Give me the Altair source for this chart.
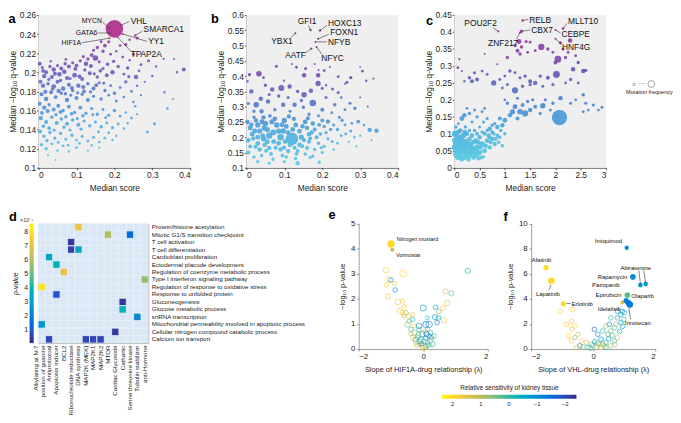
import altair as alt
import pandas as pd

W, H = 665, 415
FONT = "Liberation Sans"
TOP_Y = [157, 2]
EF_Y = [341, 213.5]

PARULA = ["#352a87", "#0f5cdd", "#1481d6", "#06a4ca", "#2eb7a4",
          "#87bf77", "#d1bb59", "#fec832", "#f9fb0e"]

# ---------------- Panel a : (median score, median -log10 q, mutation frequency) -------------
a_pts = [
    (0.200, 0.2455, 40),
    (0.187, 0.2460, 0.5), (0.191, 0.2412, 0.5), (0.187, 0.2357, 0.5), (0.2216, 0.2402, 0.5),
    (0.2545, 0.2385, 0.8), (0.2086, 0.2368, 0.5),
    (0.260, 0.236, 1.2), (0.240, 0.234, 0.8), (0.230, 0.229, 1.5), (0.215, 0.228, 1.0),
    (0.185, 0.232, 1.2), (0.175, 0.228, 1.8), (0.165, 0.232, 1.0), (0.155, 0.226, 1.5),
    (0.145, 0.223, 1.2), (0.170, 0.222, 1.5), (0.190, 0.219, 1.0), (0.205, 0.222, 0.8),
    (0.222, 0.216, 1.0), (0.250, 0.219, 1.2), (0.270, 0.220, 0.6), (0.240, 0.2125, 0.8),
    (0.150, 0.215, 4.0), (0.140, 0.218, 2.0), (0.130, 0.214, 1.5), (0.160, 0.211, 1.2),
    (0.125, 0.209, 2.5), (0.110, 0.212, 1.5), (0.100, 0.207, 2.0), (0.090, 0.210, 1.2),
    (0.080, 0.206, 2.0), (0.070, 0.209, 1.5), (0.060, 0.204, 2.0), (0.050, 0.207, 1.2),
    (0.040, 0.203, 2.5), (0.030, 0.206, 1.5), (0.020, 0.200, 2.0), (0.010, 0.205, 1.2),
    (0.003, 0.209, 2.0), (0.015, 0.196, 2.5), (0.035, 0.195, 2.0), (0.055, 0.198, 2.5),
    (0.075, 0.194, 2.0), (0.095, 0.197, 3.0), (0.115, 0.193, 2.0), (0.135, 0.199, 2.0),
    (0.155, 0.195, 1.5), (0.170, 0.204, 1.2), (0.180, 0.197, 2.0), (0.195, 0.200, 2.5),
    (0.210, 0.206, 1.5), (0.225, 0.198, 1.0), (0.235, 0.2045, 1.5), (0.257, 0.195, 2.5),
    (0.270, 0.208, 1.0), (0.290, 0.212, 1.2), (0.310, 0.206, 0.8), (0.330, 0.214, 0.6),
    (0.357, 0.214, 0.5), (0.365, 0.200, 0.8), (0.383, 0.203, 2.0), (0.300, 0.196, 0.8),
    (0.280, 0.190, 0.6),
    (0.005, 0.190, 2.0), (0.012, 0.186, 2.5), (0.025, 0.188, 1.5), (0.040, 0.185, 3.0),
    (0.050, 0.190, 2.0), (0.065, 0.183, 2.5), (0.080, 0.187, 2.0), (0.090, 0.181, 1.5),
    (0.105, 0.186, 2.5), (0.120, 0.180, 2.0), (0.130, 0.188, 1.5), (0.145, 0.183, 2.0),
    (0.160, 0.189, 1.2), (0.175, 0.181, 1.5), (0.190, 0.186, 1.0), (0.200, 0.178, 1.5),
    (0.215, 0.184, 1.0), (0.230, 0.190, 1.5), (0.245, 0.180, 1.0), (0.260, 0.186, 0.8),
    (0.270, 0.176, 0.6),
    (0.008, 0.177, 2.0), (0.020, 0.172, 2.5), (0.033, 0.179, 2.0), (0.045, 0.174, 2.0),
    (0.060, 0.178, 1.5), (0.075, 0.171, 2.5), (0.085, 0.176, 1.2), (0.100, 0.173, 2.0),
    (0.115, 0.177, 1.5), (0.130, 0.171, 2.0), (0.145, 0.175, 1.2), (0.165, 0.172, 1.5),
    (0.185, 0.176, 1.0), (0.205, 0.170, 1.2), (0.225, 0.174, 1.0), (0.250, 0.169, 0.8),
    (0.332, 0.179, 0.8), (0.355, 0.172, 0.5),
    (0.003, 0.167, 2.0), (0.015, 0.163, 2.5), (0.028, 0.166, 1.5), (0.040, 0.161, 2.0),
    (0.052, 0.165, 2.0), (0.065, 0.160, 1.5), (0.080, 0.164, 2.0), (0.095, 0.158, 1.5),
    (0.110, 0.163, 2.0), (0.125, 0.157, 1.5), (0.140, 0.162, 1.2), (0.155, 0.156, 1.5),
    (0.170, 0.161, 1.0), (0.185, 0.155, 1.2), (0.200, 0.160, 1.5), (0.215, 0.154, 1.0),
    (0.230, 0.158, 0.8), (0.245, 0.152, 1.0), (0.260, 0.156, 0.6),
    (0.006, 0.152, 2.5), (0.020, 0.148, 2.0), (0.035, 0.153, 1.5), (0.048, 0.147, 2.0),
    (0.060, 0.151, 1.5), (0.075, 0.146, 2.0), (0.090, 0.150, 1.5), (0.105, 0.145, 2.0),
    (0.120, 0.149, 1.2), (0.135, 0.144, 1.5), (0.150, 0.148, 1.2), (0.165, 0.143, 1.5),
    (0.180, 0.147, 1.0), (0.195, 0.142, 1.2), (0.210, 0.146, 1.0), (0.225, 0.141, 0.8),
    (0.340, 0.162, 0.8), (0.306, 0.146, 1.2), (0.287, 0.1375, 1.2),
    (0.004, 0.138, 2.0), (0.014, 0.133, 1.5), (0.030, 0.137, 1.5), (0.043, 0.131, 1.2),
    (0.058, 0.136, 1.5), (0.072, 0.130, 1.2), (0.088, 0.134, 1.5), (0.100, 0.129, 1.0),
    (0.115, 0.133, 1.2), (0.130, 0.128, 1.0), (0.145, 0.132, 1.2), (0.160, 0.127, 0.8),
    (0.175, 0.131, 1.0), (0.195, 0.129, 0.8),
    (0.008, 0.124, 1.5), (0.020, 0.120, 1.5), (0.035, 0.125, 1.0), (0.050, 0.118, 0.8),
    (0.065, 0.123, 1.0), (0.080, 0.117, 0.8), (0.100, 0.121, 1.0), (0.130, 0.118, 0.6),
    (0.160, 0.121, 0.6), (0.025, 0.113, 0.6), (0.045, 0.108, 0.5),
    (0.012, 0.2015, 1.8), (0.027, 0.1925, 1.4), (0.043, 0.1985, 2.2), (0.058, 0.1915, 1.6),
    (0.068, 0.2005, 2.6), (0.083, 0.1935, 1.3), (0.097, 0.2035, 1.9), (0.108, 0.1955, 2.3),
    (0.122, 0.2025, 1.5), (0.138, 0.2065, 2.1), (0.147, 0.1985, 1.2), (0.163, 0.2015, 1.7),
    (0.018, 0.1795, 2.1), (0.037, 0.1825, 1.5), (0.053, 0.1805, 2.4), (0.071, 0.1775, 1.6),
    (0.088, 0.1835, 1.9), (0.103, 0.1785, 1.3), (0.118, 0.1845, 2.2), (0.137, 0.1795, 1.4),
    (0.152, 0.1865, 1.8), (0.172, 0.1885, 1.1),
    (0.009, 0.1575, 1.8), (0.024, 0.1595, 2.2), (0.046, 0.1555, 1.4), (0.058, 0.1585, 2.0),
    (0.072, 0.1535, 1.5), (0.087, 0.1565, 1.7), (0.102, 0.1515, 1.3), (0.117, 0.1545, 1.6),
    (0.143, 0.1555, 1.1), (0.177, 0.1525, 1.0),
    (0.013, 0.1435, 1.6), (0.028, 0.1415, 1.9), (0.041, 0.1395, 1.3), (0.067, 0.1425, 1.5),
    (0.083, 0.1395, 1.2), (0.112, 0.1405, 1.4), (0.158, 0.1375, 1.0),
    (0.022, 0.1285, 1.4), (0.052, 0.1265, 1.1), (0.078, 0.1235, 1.0), (0.108, 0.1255, 0.9),
    (0.140, 0.1235, 0.8), (0.185, 0.1365, 0.9), (0.205, 0.1335, 0.7), (0.235, 0.1465, 0.8),
    (0.255, 0.1645, 0.7), (0.238, 0.1955, 1.3), (0.265, 0.2015, 0.9), (0.198, 0.2115, 1.4),
    (0.182, 0.2085, 1.6), (0.118, 0.2165, 1.3), (0.072, 0.2135, 0.9), (0.032, 0.2115, 0.8),
]
# gene, point x, point y, line-end x, line-end y, text x, text y
a_labels = [
    ("MYCN", 0.187, 0.2460, 0.1697, 0.2523, 0.167, 0.2535),
    ("GATA6", 0.191, 0.2412, 0.157, 0.2412, 0.155, 0.2412),
    ("HIF1A", 0.187, 0.2357, 0.1135, 0.2309, 0.112, 0.2309),
    ("VHL", 0.213, 0.2488, 0.239, 0.2530, 0.243, 0.2535),
    ("SMARCA1", 0.2545, 0.2385, 0.2735, 0.2430, 0.277, 0.2450),
    ("YY1", 0.2216, 0.2402, 0.2865, 0.2323, 0.289, 0.2325),
    ("TFAP2A", 0.2086, 0.2368, 0.2434, 0.2220, 0.243, 0.2190),
]
a_left = ["VHL", "SMARCA1", "YY1", "TFAP2A"]
a_right = ["MYCN", "GATA6", "HIF1A"]

# ---------------- Panel b ----------------
b_pts = [
    (0.169, 0.551, 0.8), (0.194, 0.549, 0.8), (0.189, 0.522, 0.6), (0.182, 0.512, 0.5),
    (0.129, 0.540, 0.5), (0.171, 0.490, 0.8), (0.185, 0.495, 0.6),
    (0.003, 0.383, 0.8), (0.008, 0.405, 1.5), (0.033, 0.408, 4.0), (0.045, 0.395, 1.0),
    (0.050, 0.370, 1.5), (0.079, 0.432, 1.2), (0.099, 0.385, 0.6), (0.132, 0.429, 1.0),
    (0.156, 0.425, 1.2), (0.152, 0.403, 2.5), (0.189, 0.403, 2.5), (0.205, 0.418, 1.0),
    (0.242, 0.398, 1.0), (0.265, 0.380, 1.2), (0.275, 0.395, 1.5), (0.306, 0.416, 1.0),
    (0.316, 0.385, 0.8), (0.335, 0.392, 0.6), (0.220, 0.430, 0.5), (0.180, 0.440, 0.5),
    (0.120, 0.440, 0.5), (0.300, 0.430, 0.4), (0.190, 0.420, 0.6),
    (0.092, 0.361, 4.5), (0.068, 0.356, 2.5), (0.114, 0.366, 2.5), (0.135, 0.350, 1.5),
    (0.152, 0.339, 4.0), (0.170, 0.352, 2.5), (0.189, 0.376, 3.5), (0.200, 0.360, 1.2),
    (0.175, 0.312, 5.5), (0.127, 0.306, 2.5), (0.150, 0.298, 1.5), (0.115, 0.285, 1.2),
    (0.013, 0.350, 2.5), (0.038, 0.326, 2.5), (0.026, 0.306, 4.0), (0.005, 0.310, 1.2),
    (0.057, 0.317, 2.5), (0.075, 0.290, 1.5), (0.097, 0.306, 2.5), (0.227, 0.358, 1.2),
    (0.242, 0.346, 1.2), (0.233, 0.306, 1.5), (0.273, 0.311, 1.2), (0.286, 0.295, 1.5),
    (0.210, 0.330, 1.2), (0.250, 0.330, 0.8), (0.300, 0.330, 0.6), (0.260, 0.290, 1.0),
    (0.200, 0.290, 2.0), (0.145, 0.320, 1.5), (0.060, 0.340, 1.2), (0.085, 0.335, 1.5),
    (0.110, 0.330, 1.2), (0.210, 0.370, 0.8), (0.260, 0.375, 0.6), (0.040, 0.285, 2.5),
    (0.020, 0.285, 1.5), (0.165, 0.275, 1.5), (0.190, 0.270, 1.2), (0.225, 0.280, 1.0),
    (0.320, 0.300, 0.6),
    (0.003, 0.250, 2.5), (0.010, 0.230, 3.0), (0.015, 0.210, 3.0), (0.005, 0.190, 2.5),
    (0.010, 0.170, 2.0), (0.005, 0.150, 2.0), (0.020, 0.135, 1.5), (0.025, 0.255, 2.5),
    (0.030, 0.240, 3.5), (0.035, 0.220, 3.5), (0.030, 0.200, 3.0), (0.030, 0.180, 3.0),
    (0.035, 0.160, 2.5), (0.040, 0.140, 1.5), (0.045, 0.265, 2.5), (0.050, 0.245, 4.0),
    (0.055, 0.225, 3.5), (0.060, 0.205, 5.0), (0.055, 0.185, 3.0), (0.060, 0.165, 2.5),
    (0.065, 0.145, 2.0), (0.070, 0.128, 1.5), (0.075, 0.260, 3.0), (0.080, 0.240, 4.0),
    (0.085, 0.220, 3.5), (0.090, 0.200, 5.5), (0.085, 0.180, 3.0), (0.090, 0.160, 2.5),
    (0.095, 0.140, 2.0), (0.100, 0.255, 3.5), (0.105, 0.235, 3.0), (0.110, 0.215, 3.0),
    (0.120, 0.195, 20.0), (0.115, 0.175, 3.0), (0.110, 0.155, 2.5), (0.105, 0.135, 1.5),
    (0.125, 0.260, 2.5), (0.130, 0.240, 3.0), (0.140, 0.220, 3.0), (0.145, 0.200, 3.5),
    (0.140, 0.175, 2.5), (0.135, 0.155, 2.0), (0.130, 0.130, 1.5), (0.155, 0.250, 3.0),
    (0.160, 0.230, 2.5), (0.165, 0.210, 2.5), (0.165, 0.185, 2.0), (0.160, 0.165, 2.0),
    (0.155, 0.145, 1.5), (0.175, 0.245, 2.5), (0.180, 0.225, 2.0), (0.185, 0.200, 2.0),
    (0.190, 0.180, 1.5), (0.180, 0.160, 1.5), (0.175, 0.138, 1.2), (0.200, 0.255, 2.0),
    (0.205, 0.235, 1.5), (0.210, 0.215, 1.5), (0.215, 0.195, 1.2), (0.205, 0.170, 1.2),
    (0.200, 0.150, 1.2), (0.215, 0.251, 2.5), (0.230, 0.240, 1.2), (0.240, 0.225, 1.5),
    (0.250, 0.205, 1.0), (0.240, 0.180, 1.0), (0.230, 0.160, 0.8), (0.260, 0.240, 1.0),
    (0.275, 0.220, 1.2), (0.295, 0.251, 2.0), (0.285, 0.200, 0.8), (0.270, 0.185, 0.6),
    (0.290, 0.170, 0.6), (0.325, 0.224, 2.5), (0.343, 0.221, 2.5), (0.310, 0.240, 0.8),
    (0.300, 0.205, 0.6), (0.330, 0.190, 0.5), (0.192, 0.118, 1.5), (0.168, 0.134, 1.5),
    (0.135, 0.115, 2.5), (0.100, 0.120, 1.2), (0.060, 0.115, 1.2), (0.030, 0.120, 1.5),
    (0.045, 0.195, 4.0),
    (0.013, 0.2405, 2.6), (0.022, 0.2205, 3.2), (0.018, 0.1955, 2.4), (0.024, 0.1685, 2.1),
    (0.041, 0.2505, 3.1), (0.047, 0.2305, 3.6), (0.043, 0.2055, 2.8), (0.048, 0.1755, 2.6),
    (0.052, 0.1555, 2.0), (0.067, 0.2505, 3.3), (0.071, 0.2155, 4.2), (0.072, 0.1855, 3.2),
    (0.077, 0.1655, 2.2), (0.094, 0.2405, 3.1), (0.097, 0.2205, 3.8), (0.102, 0.1855, 2.9),
    (0.099, 0.1655, 2.3), (0.122, 0.2255, 3.0), (0.127, 0.1655, 2.1), (0.132, 0.1455, 1.8),
    (0.148, 0.2355, 2.6), (0.152, 0.1905, 2.4), (0.147, 0.1705, 2.2), (0.172, 0.2155, 2.3),
    (0.168, 0.1955, 2.1), (0.192, 0.2405, 1.9), (0.195, 0.2105, 1.7), (0.197, 0.1655, 1.3),
    (0.222, 0.2255, 1.6), (0.226, 0.1855, 1.1), (0.262, 0.2105, 1.0), (0.252, 0.2555, 1.4),
    (0.278, 0.2455, 0.9), (0.245, 0.265, 1.2), (0.162, 0.262, 2.0), (0.112, 0.268, 2.2),
    (0.062, 0.270, 1.8), (0.020, 0.265, 1.6),
]
b_labels = [
    ("GFI1", 0.169, 0.551, 0.164, 0.566, 0.160, 0.581),
    ("HOXC13", 0.194, 0.549, 0.212, 0.566, 0.215, 0.575),
    ("FOXN1", 0.189, 0.522, 0.217, 0.537, 0.221, 0.543),
    ("NFYB", 0.182, 0.512, 0.212, 0.512, 0.215, 0.512),
    ("YBX1", 0.129, 0.540, 0.118, 0.527, 0.122, 0.516),
    ("AATF", 0.171, 0.490, 0.156, 0.476, 0.157, 0.468),
    ("NFYC", 0.185, 0.495, 0.199, 0.471, 0.197, 0.458),
]
b_left = ["HOXC13", "FOXN1", "NFYB", "NFYC"]
b_right = ["YBX1", "AATF"]
b_center = ["GFI1"]

# ---------------- Panel c ----------------
c_pts = [
    (1.35, 0.434, 0.8), (0.87, 0.402, 0.6), (1.33, 0.402, 1.5), (1.30, 0.398, 0.6),
    (2.15, 0.410, 1.0), (2.00, 0.406, 0.6), (2.00, 0.380, 0.6),
    (2.08, 0.148, 30.0),
    (1.28, 0.372, 3.0), (1.20, 0.360, 1.5), (1.33, 0.356, 1.5), (1.42, 0.372, 1.2),
    (1.50, 0.370, 1.0), (1.72, 0.356, 5.0), (1.25, 0.345, 2.0), (1.30, 0.335, 1.5),
    (1.45, 0.340, 1.0), (1.60, 0.345, 1.0), (1.85, 0.350, 1.5), (1.95, 0.340, 1.0),
    (2.10, 0.368, 1.5), (2.29, 0.375, 2.5), (2.15, 0.350, 1.2), (2.40, 0.330, 1.0),
    (2.25, 0.340, 1.0), (2.05, 0.320, 6.0), (2.00, 0.310, 2.0), (2.20, 0.325, 1.5),
    (2.45, 0.310, 1.5), (2.35, 0.290, 2.5), (2.55, 0.285, 2.5), (2.60, 0.287, 1.5),
    (1.05, 0.325, 1.5), (0.85, 0.305, 0.6), (0.10, 0.320, 0.6), (0.07, 0.295, 1.0),
    (0.60, 0.335, 0.5),
    (2.02, 0.275, 6.0), (1.85, 0.265, 2.0), (1.70, 0.270, 1.5), (1.60, 0.250, 2.5),
    (1.50, 0.255, 2.0), (1.40, 0.270, 1.5), (1.30, 0.265, 1.2), (1.20, 0.280, 1.0),
    (1.10, 0.285, 1.5), (1.00, 0.270, 1.0), (0.90, 0.260, 1.0), (0.78, 0.250, 3.5),
    (0.55, 0.285, 1.0), (0.45, 0.260, 2.0), (0.35, 0.255, 2.0), (0.30, 0.265, 1.5),
    (0.40, 0.280, 1.2), (0.65, 0.275, 1.0), (0.20, 0.255, 0.8), (0.15, 0.285, 0.6),
    (1.20, 0.228, 5.0), (1.35, 0.240, 1.5), (1.50, 0.245, 1.5), (1.75, 0.240, 1.2),
    (1.95, 0.245, 1.5), (2.20, 0.250, 1.0), (2.30, 0.260, 1.5), (2.45, 0.250, 1.0),
    (2.55, 0.215, 1.5), (1.05, 0.245, 1.2), (0.95, 0.235, 1.0),
    (2.10, 0.205, 2.5), (1.95, 0.190, 1.5), (1.80, 0.200, 1.2), (1.75, 0.183, 3.5),
    (1.60, 0.180, 2.0), (1.50, 0.170, 2.5), (1.40, 0.160, 5.0), (1.30, 0.165, 4.0),
    (1.20, 0.180, 3.0), (1.15, 0.165, 3.5), (1.10, 0.155, 2.5), (1.00, 0.140, 3.0),
    (0.95, 0.125, 2.5), (0.90, 0.145, 2.0), (0.85, 0.120, 2.5), (0.80, 0.130, 1.5),
    (0.75, 0.105, 2.0), (0.70, 0.115, 2.5), (1.25, 0.145, 2.0), (1.35, 0.185, 2.0),
    (1.45, 0.195, 1.5), (1.55, 0.200, 1.2), (1.70, 0.160, 1.5), (1.90, 0.170, 1.2),
    (2.30, 0.190, 1.2), (2.40, 0.200, 1.0), (2.60, 0.190, 1.2), (2.65, 0.170, 1.0),
    (2.75, 0.185, 1.2), (2.85, 0.170, 1.0), (2.92, 0.178, 1.2), (2.55, 0.165, 1.0),
    (0.20, 0.155, 2.5), (0.15, 0.145, 3.0), (0.30, 0.160, 1.5), (0.25, 0.175, 1.0),
    (0.40, 0.170, 1.2), (0.45, 0.150, 1.5), (0.55, 0.165, 1.0), (0.65, 0.145, 1.2),
    (0.60, 0.175, 1.0), (1.05, 0.190, 1.5), (1.00, 0.200, 1.0), (1.25, 0.205, 1.2),
    (0.02, 0.100, 6.0), (0.05, 0.070, 8.0), (0.08, 0.055, 8.0), (0.12, 0.045, 6.0),
    (0.15, 0.075, 6.0), (0.20, 0.050, 8.0), (0.25, 0.065, 6.0), (0.30, 0.040, 6.0),
    (0.35, 0.055, 6.0), (0.40, 0.035, 4.0), (0.45, 0.060, 4.0), (0.50, 0.045, 4.0),
    (0.55, 0.070, 4.0), (0.60, 0.050, 3.0), (0.65, 0.080, 3.0), (0.70, 0.060, 2.5),
    (0.75, 0.085, 2.5), (0.80, 0.070, 2.5), (0.90, 0.090, 1.5), (0.95, 0.065, 1.5),
    (1.00, 0.100, 1.5), (0.10, 0.030, 4.0), (0.18, 0.030, 4.0), (0.28, 0.025, 3.0),
    (0.38, 0.030, 2.5), (0.48, 0.028, 2.5), (0.58, 0.032, 1.5), (0.03, 0.040, 4.0),
    (0.06, 0.085, 4.0), (0.10, 0.090, 3.0), (0.18, 0.095, 4.0), (0.25, 0.100, 2.5),
    (0.30, 0.085, 3.0), (0.35, 0.095, 2.5), (0.42, 0.080, 3.0), (0.50, 0.090, 2.5),
    (0.55, 0.105, 1.5), (0.60, 0.100, 2.0), (0.12, 0.110, 2.5), (0.22, 0.120, 1.5),
    (0.03, 0.120, 1.5), (0.08, 0.130, 1.0), (0.40, 0.110, 1.5), (0.65, 0.110, 1.5),
    (0.22, 0.075, 6.0), (0.32, 0.070, 4.0), (0.42, 0.050, 4.0), (0.13, 0.065, 6.0),
    (0.05, 0.050, 6.0), (0.00, 0.060, 4.0), (0.01, 0.080, 4.0), (0.85, 0.095, 2.0),
    (0.88, 0.075, 1.5), (0.70, 0.090, 2.0), (0.78, 0.100, 1.5), (0.45, 0.100, 2.0),
    (0.27, 0.045, 4.0),
    (0.04, 0.060, 5.0), (0.09, 0.075, 5.0), (0.16, 0.055, 5.0), (0.24, 0.035, 4.0),
    (0.33, 0.060, 4.0), (0.38, 0.075, 3.0), (0.47, 0.075, 3.0), (0.52, 0.060, 3.0),
    (0.62, 0.065, 2.5), (0.68, 0.095, 2.5), (0.14, 0.090, 4.0), (0.21, 0.105, 3.0),
    (0.08, 0.105, 3.0), (0.36, 0.040, 3.0), (0.45, 0.040, 2.5), (0.53, 0.030, 2.0),
    (0.06, 0.030, 3.0), (0.15, 0.025, 3.0), (0.72, 0.075, 2.0), (0.82, 0.085, 2.0),
    (0.92, 0.110, 1.5), (0.50, 0.120, 1.2), (0.30, 0.110, 1.5), (0.58, 0.135, 1.2),
    (0.75, 0.125, 1.5), (0.35, 0.135, 1.2),
]
c_labels = [
    ("RELB", 1.35, 0.434, 1.46, 0.437, 1.48, 0.436),
    ("POU2F2", 0.87, 0.402, 0.77, 0.412, 0.52, 0.427),
    ("CBX7", 1.33, 0.402, 1.50, 0.406, 1.52, 0.407),
    ("ZNF217", 1.30, 0.398, 1.23, 0.380, 1.265, 0.368),
    ("MLLT10", 2.15, 0.410, 2.23, 0.425, 2.25, 0.432),
    ("CEBPE", 2.00, 0.406, 2.10, 0.397, 2.12, 0.393),
    ("HNF4G", 2.00, 0.380, 2.11, 0.366, 2.13, 0.356),
]
c_left = ["RELB", "CBX7", "MLLT10", "CEBPE", "HNF4G"]
c_right = ["ZNF217"]
c_center = ["POU2F2"]

# ---------------- Panel d : heatmap (p-value x 1e-5) ----------------
d_rows = ["Protein/histone acetylation", "Mitotic G1/S transition checkpoint",
          "T cell activation", "T cell differentiation", "Cardioblast proliferation",
          "Ectodermal placode development", "Regulation of coenzyme metabolic process",
          "Type I interferon signaling pathway", "Regulation of response to oxidative stress",
          "Response to unfolded protein", "Gluconeogenesis", "Glucose metabolic process",
          "snRNA transcription", "Mitochondrial permeability involved in apoptotic process",
          "Cellular nitrogen compound catabolic process", "Calcium ion transport"]
d_cols = ["Alkylating at N-7|position of guanine", "Antiprotozoal", "Apoptosis inducer", "BCL2",
          "Ribonucleotide reductase", "DNA synthesis", "MAP2K (MEK)", "MAP2K1", "MAP2K2",
          "MTOR", "Cardiac Glycoside", "Cathartic", "Serine threonine kinase",
          "Tubulin stabilizer", "anti-Hormone"]
d_cells = [
    ("Protein/histone acetylation", "DNA synthesis", 7.2),
    ("Mitotic G1/S transition checkpoint", "MTOR", 6.0),
    ("Mitotic G1/S transition checkpoint", "Serine threonine kinase", 1.5),
    ("T cell activation", "Ribonucleotide reductase", 0.3),
    ("T cell differentiation", "Ribonucleotide reductase", 0.5),
    ("T cell differentiation", "DNA synthesis", 3.4),
    ("Cardioblast proliferation", "Antiprotozoal", 3.3),
    ("Ectodermal placode development", "Apoptosis inducer", 3.9),
    ("Regulation of coenzyme metabolic process", "BCL2", 7.0),
    ("Type I interferon signaling pathway", "anti-Hormone", 5.6),
    ("Regulation of response to oxidative stress", "Alkylating at N-7|position of guanine", 8.1),
    ("Response to unfolded protein", "Apoptosis inducer", 0.9),
    ("Gluconeogenesis", "Cathartic", 0.25),
    ("Glucose metabolic process", "Cathartic", 3.7),
    ("snRNA transcription", "Tubulin stabilizer", 2.2),
    ("Mitochondrial permeability involved in apoptotic process", "Alkylating at N-7|position of guanine", 2.8),
    ("Cellular nitrogen compound catabolic process", "Cardiac Glycoside", 0.35),
    ("Calcium ion transport", "Antiprotozoal", 0.6),
    ("Calcium ion transport", "MAP2K (MEK)", 0.6),
    ("Calcium ion transport", "MAP2K1", 0.6),
    ("Calcium ion transport", "MAP2K2", 0.6),
]
d_pmax = 8.6
d_ticks = [1, 2, 3, 4, 5, 6, 7, 8]

# ---------------- Panels e / f : (slope, -log10 p, relative sensitivity, size) ----------
e_open = [
    (-1.15, 3.14, 1.9, 3), (-0.62, 3.00, 1.9, 4.5), (-1.06, 2.77, 1.8, 2.5), (-1.00, 2.74, -1.0, 2),
    (-1.15, 2.55, 1.9, 1.8), (-0.89, 2.61, 1.7, 1.8), (-0.87, 2.35, -0.9, 2), (-1.09, 2.09, 1.6, 2.5),
    (-0.79, 1.87, 1.8, 3), (-0.64, 1.92, 1.6, 1.5), (-0.59, 1.70, 1.7, 1.5), (-0.72, 1.50, 1.8, 3.5),
    (-0.53, 1.44, 0.6, 2), (-0.59, 1.31, 0.9, 1.5), (-0.33, 1.37, 1.3, 1.5), (-0.43, 1.11, 0.5, 2),
    (-0.48, 0.98, 0.7, 3), (-0.38, 0.78, 0.0, 2), (-0.28, 0.92, 1.5, 1.5), (-0.13, 0.92, -1.0, 3),
    (0.08, 0.98, -1.6, 3.5), (0.00, 1.63, -0.9, 3.5), (0.38, 1.66, -0.3, 2), (0.74, 1.83, 1.5, 3),
    (0.61, 1.63, 1.7, 2), (0.69, 2.29, 1.3, 2.5), (0.87, 2.22, 0.2, 2.5), (1.38, 3.11, -0.2, 2.5),
    (0.36, 1.27, -1.0, 2.5), (0.48, 1.24, -0.2, 2), (0.64, 1.14, 1.6, 2.5), (0.43, 1.05, -1.2, 2),
    (0.18, 0.98, -1.3, 4), (0.23, 0.65, 0.0, 2), (0.13, 0.78, 0.6, 2), (-0.03, 0.59, -1.0, 3),
    (-0.18, 0.46, 0.5, 2), (-0.08, 0.39, 0.0, 2), (0.08, 0.43, -1.0, 2), (-0.23, 0.26, 1.8, 2),
    (-0.13, 0.20, 0.6, 2), (0.03, 0.13, 1.2, 3.5), (0.13, 0.26, 0.0, 2), (0.23, 0.33, 0.6, 2),
    (0.30, 0.20, 0.0, 2), (-0.03, 0.07, 1.8, 2), (0.08, 0.09, 0.6, 2), (-0.33, 0.46, 1.7, 2),
    (-0.38, 0.61, 1.2, 2), (0.33, 0.52, 0.0, 2), (0.18, 0.52, -1.0, 2), (-0.28, 0.65, 0.6, 3),
    (-0.13, 0.78, 0.0, 2), (-0.47, 1.31, 1.8, 2), (-0.64, 1.46, 1.8, 2), (-0.33, 1.18, 0.0, 2),
    (0.13, 1.24, -0.3, 1.2), (0.48, 1.50, 0.5, 2), (-0.10, 0.30, -0.5, 2.5), (0.05, 0.30, 0.3, 2.5),
    (0.15, 0.15, -0.2, 2), (-0.20, 0.15, 1.0, 2), (0.20, 0.05, 0.8, 2), (-0.05, 0.20, -1.2, 2),
    (0.10, 0.60, -1.5, 2.5), (-0.15, 0.55, 0.2, 2.5), (0.25, 0.45, -0.6, 2), (0.00, 0.02, 1.5, 2.5),
    (0.05, 0.70, 0.9, 2), (-0.25, 0.38, 0.0, 2),
]
e_fill = [("Nitrogen mustard", -1.00, 4.18, 2.0, 5.0), ("Vorinostat", -0.96, 3.95, 1.2, 1.5)]
e_text = [("Nitrogen mustard", -0.82, 4.38, "left"), ("Vorinostat", -0.84, 3.75, "left")]

f_open = [
    (-1.07, 3.00, 1.9, 2), (-0.65, 3.13, 1.9, 2), (-0.70, 2.22, 1.8, 1.8), (-0.59, 1.83, 1.9, 2),
    (-0.70, 1.57, 1.8, 1.8), (-0.49, 1.17, 1.2, 1.8), (-0.59, 0.91, 0.6, 1.8), (-0.38, 0.65, 1.8, 1.8),
    (-0.22, 0.52, 1.2, 2), (-0.06, 0.39, 0.6, 2), (-0.01, 0.26, 0.0, 2), (0.10, 0.18, 0.6, 3),
    (0.20, 0.34, 1.2, 2), (0.31, 0.39, 0.6, 2), (0.41, 0.52, 0.0, 2), (0.25, 0.78, -1.0, 2),
    (0.15, 1.17, -1.0, 2), (0.04, 1.57, -1.9, 2), (0.47, 1.17, 0.0, 2), (0.57, 1.44, 0.6, 2),
    (0.68, 1.70, 0.0, 2), (0.52, 1.96, -1.0, 2), (0.78, 2.48, 0.0, 2), (0.89, 2.74, -0.3, 2),
    (0.78, 3.00, -1.0, 1.8), (0.94, 3.00, -0.5, 1.8), (0.57, 2.48, 0.0, 2), (0.41, 1.83, 0.6, 2),
    (0.31, 1.44, 0.0, 2), (0.73, 1.96, 1.2, 2), (0.89, 2.09, -1.0, 2), (0.99, 2.35, 0.0, 2),
    (-0.17, 0.13, 0.0, 2), (-0.33, 0.18, 0.6, 2), (-0.43, 0.26, -1.0, 2), (-0.54, 0.13, 1.2, 2),
    (0.25, 0.13, 1.8, 2), (0.41, 0.13, 0.0, 2), (0.57, 0.26, 0.6, 2), (0.68, 0.65, 0.0, 2),
    (0.78, 0.91, 1.2, 2), (-0.70, 0.65, 1.8, 2), (-0.80, 1.04, 1.8, 2), (-0.86, 1.96, 1.8, 2),
    (0.05, 0.60, -0.5, 2), (0.15, 0.45, 0.3, 2.5), (0.35, 0.25, 0.9, 2), (-0.10, 0.05, 0.2, 2),
    (0.50, 0.80, -0.6, 2), (0.62, 1.10, 0.3, 2), (0.85, 1.40, -0.4, 2), (0.95, 1.80, -0.7, 2),
    (1.00, 2.90, -0.8, 2), (0.70, 0.35, 1.0, 2),
]
f_fill = [
    ("Imiquimod", 1.08, 8.06, -1.0, 1.8), ("Afatinib", -1.52, 6.48, 2.0, 2.5),
    ("Lapatinib", -1.35, 5.43, 2.0, 4.0), ("Erlotinib", -0.96, 3.60, 2.0, 2.5),
    ("Rapamycin", 1.28, 5.74, -1.0, 3.0), ("Abiraterone", 1.52, 5.09, -0.9, 2.0),
    ("Abiraterone ", 1.69, 5.17, -0.9, 2.0), ("Olaparib", 1.10, 4.30, 0.3, 3.0),
    ("Pazopanib", 0.94, 3.73, 1.4, 1.5), ("Epirubicin", 1.06, 3.85, -1.1, 2.5),
    ("Idelalisib", 1.13, 3.68, -1.6, 3.0), ("Irinotecan", 1.18, 3.55, -1.3, 4.0),
]
f_text = [
    ("Imiquimod", 0.49, 8.61, "center"), ("Afatinib", -1.67, 7.05, "center"),
    ("Lapatinib", -1.46, 4.39, "center"), ("Erlotinib", -0.70, 3.60, "left"),
    ("Abiraterone", 1.37, 6.45, "center"), ("Rapamycin", 1.10, 5.74, "right"),
    ("Pazopanib", 0.41, 5.09, "center"), ("Epirubicin", 0.91, 4.31, "right"),
    ("Olaparib", 1.23, 4.25, "left"), ("Idelalisib", 0.89, 3.21, "right"),
    ("Irinotecan", 1.02, 2.09, "left"),
]
f_lines = [(-1.36, 5.10, -1.42, 4.70), (-0.86, 3.62, -0.73, 3.62),
           (1.47, 6.26, 1.52, 5.22), (1.63, 6.26, 1.69, 5.27), (1.15, 3.30, 1.20, 2.35)]

SENS_DOM = [2.4, 1.8, 1.2, 0.6, 0.0, -0.6, -1.2, -1.8, -2.4]
SENS_RANGE = PARULA[::-1]

# ===================================== helpers =====================================
def ax_style(**kw):
    base = dict(grid=False, tickSize=2, labelPadding=1, titlePadding=3, labelFontSize=8.5,
                titleFontSize=8.5, titleFontWeight="normal", domainColor="#222",
                tickColor="#222", labelColor="#222", titleColor="#222",
                domainWidth=0.8, tickWidth=0.8)
    base.update(kw)
    return alt.Axis(**base)


def top_panel(pts, labels, left, right, center, xdom, xr, ydom, xticks, yticks,
              cdom, crange, small=(), fs=8.5):
    xs = dict(domain=xdom, range=xr, nice=False, zero=False)
    ys = dict(domain=ydom, range=TOP_Y, nice=False, zero=False)
    bgdf = pd.DataFrame({"x0": [xdom[0]], "x1": [xdom[1]], "y0": [ydom[0]], "y1": [ydom[1]]})
    xaxis = ax_style(orient="bottom", offset=TOP_Y[0] - H, values=xticks, format="~g",
                     title="Median score", titlePadding=5)
    yaxis = ax_style(orient="left", offset=-xr[0], values=yticks, format="~g",
                     title="Median \u2212log\u2081\u2080 q-value", titlePadding=2)
    bg = alt.Chart(bgdf).mark_rect(color="#efefef").encode(
        x=alt.X("x0:Q", scale=alt.Scale(**xs), axis=xaxis), x2="x1:Q",
        y=alt.Y("y0:Q", scale=alt.Scale(**ys), axis=yaxis), y2="y1:Q")
    df = pd.DataFrame(pts, columns=["score", "q", "freq"])
    dots = alt.Chart(df).mark_circle(opacity=0.95).encode(
        x=alt.X("score:Q", scale=alt.Scale(**xs), axis=None),
        y=alt.Y("q:Q", scale=alt.Scale(**ys), axis=None),
        size=alt.Size("freq:Q", scale=alt.Scale(domain=[0, 40], range=[0, 320]), legend=None),
        color=alt.Color("q:Q", scale=alt.Scale(domain=cdom, range=crange), legend=None),
        order=alt.Order("freq:Q", sort="descending"))
    ldf = pd.DataFrame(labels, columns=["gene", "px", "py", "lx", "ly", "tx", "ty"])
    rules = alt.Chart(ldf).mark_rule(color="#333", strokeWidth=0.6).encode(
        x=alt.X("px:Q", scale=alt.Scale(**xs), axis=None),
        y=alt.Y("py:Q", scale=alt.Scale(**ys), axis=None),
        x2="lx:Q", y2="ly:Q")
    layers = [bg, dots, rules]
    for names, al in ((left, "left"), (right, "right"), (center, "center")):
        for grp, size in (([n for n in names if n not in small], fs),
                          ([n for n in names if n in small], 7)):
            sub = ldf[ldf.gene.isin(grp)]
            if len(sub):
                layers.append(alt.Chart(sub).mark_text(align=al, baseline="middle", fontSize=size,
                                                        color="#111").encode(
                    x=alt.X("tx:Q", scale=alt.Scale(**xs), axis=None),
                    y=alt.Y("ty:Q", scale=alt.Scale(**ys), axis=None),
                    text="gene:N"))
    return layers


def volcano(open_pts, fill_pts, texts, lines, xr, ydom, yticks, xtitle, legend, fsize):
    xs = dict(domain=[-2, 2], range=xr, nice=False, zero=False)
    ys = dict(domain=ydom, range=EF_Y, nice=False, zero=False)
    cs = dict(domain=SENS_DOM, range=SENS_RANGE)
    ss = dict(domain=[0, 5], range=[0, 55])
    common = dict(tickSize=2, labelPadding=2, labelFontSize=8, titleFontSize=7.5,
                  domainColor="#777", tickColor="#777", domainWidth=0.7)
    xaxis = ax_style(orient="bottom", offset=EF_Y[0] - H, values=[-2, 0, 2], title=xtitle,
                     titlePadding=5, **common)
    yaxis = ax_style(orient="left", offset=-xr[0], values=yticks,
                     title="\u2212log\u2081\u2080 p-value", titlePadding=4, **common)
    odf = pd.DataFrame(open_pts, columns=["slope", "p", "sens", "n"])
    opened = alt.Chart(odf).mark_point(shape="circle", filled=False, strokeWidth=0.7,
                                       opacity=0.9).encode(
        x=alt.X("slope:Q", scale=alt.Scale(**xs), axis=xaxis),
        y=alt.Y("p:Q", scale=alt.Scale(**ys), axis=yaxis),
        color=alt.Color("sens:Q", scale=alt.Scale(**cs), legend=None),
        size=alt.Size("n:Q", scale=alt.Scale(**ss), legend=None))
    fdf = pd.DataFrame(fill_pts, columns=["drug", "slope", "p", "sens", "n"])
    filled = alt.Chart(fdf).mark_circle(opacity=1).encode(
        x=alt.X("slope:Q", scale=alt.Scale(**xs), axis=None),
        y=alt.Y("p:Q", scale=alt.Scale(**ys), axis=None),
        color=alt.Color("sens:Q", scale=alt.Scale(**cs), legend=legend),
        size=alt.Size("n:Q", scale=alt.Scale(**ss), legend=None))
    layers = [opened, filled]
    if lines:
        ldf = pd.DataFrame(lines, columns=["x0", "y0", "x1", "y1"])
        layers.append(alt.Chart(ldf).mark_rule(color="#333", strokeWidth=0.6).encode(
            x=alt.X("x0:Q", scale=alt.Scale(**xs), axis=None),
            y=alt.Y("y0:Q", scale=alt.Scale(**ys), axis=None),
            x2="x1:Q", y2="y1:Q"))
    tdf = pd.DataFrame(texts, columns=["drug", "tx", "ty", "al"])
    for al in ("left", "right", "center"):
        sub = tdf[tdf.al == al]
        if len(sub):
            layers.append(alt.Chart(sub).mark_text(align=al, baseline="middle", fontSize=fsize,
                                                    color="#111").encode(
                x=alt.X("tx:Q", scale=alt.Scale(**xs), axis=None),
                y=alt.Y("ty:Q", scale=alt.Scale(**ys), axis=None),
                text="drug:N"))
    return layers


def pix_text(txt, x, y, **kw):
    return alt.Chart(pd.DataFrame({"t": [txt]})).mark_text(**kw).encode(
        x=alt.value(x), y=alt.value(y), text="t:N")

# ===================================== panels =====================================
pa = top_panel(a_pts, a_labels, a_left, a_right, [], [0, 0.4], [31, 185], [0.1, 0.26],
               [0, 0.1, 0.2, 0.3, 0.4], [0.1, 0.12, 0.14, 0.16, 0.18, 0.2, 0.22, 0.24, 0.26],
               [0.11, 0.15, 0.18, 0.2, 0.225, 0.245],
               ["#66c6e5", "#58a8dc", "#5f80cc", "#7063bd", "#8a4cab", "#b03590"],
               small=("MYCN", "GATA6", "HIF1A"))
pb = top_panel(b_pts, b_labels, b_left, b_right, b_center, [0, 0.4], [242, 396], [0.1, 0.6],
               [0, 0.1, 0.2, 0.3, 0.4], [0.1, 0.15, 0.2, 0.25, 0.3, 0.35, 0.4, 0.45, 0.5, 0.55, 0.6],
               [0.12, 0.2, 0.27, 0.33, 0.4, 0.55],
               ["#5fc8e5", "#55b2de", "#5790d2", "#6470c2", "#7a55b0", "#8c3f86"])
pc = top_panel(c_pts, c_labels, c_left, c_right, c_center, [0, 3], [453, 607], [0, 0.45],
               [0, 0.5, 1, 1.5, 2, 2.5, 3], [0, 0.05, 0.1, 0.15, 0.2, 0.25, 0.3, 0.35, 0.4, 0.45],
               [0.02, 0.08, 0.15, 0.22, 0.28, 0.35, 0.43],
               ["#5dcde4", "#56bce0", "#4f9bd6", "#5a78c8", "#6a5ab8", "#8c45aa", "#a8359a"])

# heatmap
HM_X = [30.5, 142.5]
HM_Y = [213.5, 335]
hx = dict(domain=d_cols, range=HM_X, paddingInner=0, paddingOuter=0)
hy = dict(domain=d_rows, range=HM_Y, paddingInner=0, paddingOuter=0)
heat_dom = [d_pmax * i / 8 for i in range(9)]
grid_df = pd.DataFrame([(r, c) for r in d_rows for c in d_cols], columns=["row", "col"])
col_axis = alt.Axis(orient="bottom", offset=HM_Y[1] - H, labelAngle=270, labelFontSize=6.3,
                    labelColor="#222", ticks=False, domain=True, domainColor="#999",
                    domainWidth=0.6, labelPadding=2, title=None, labelLimit=300,
                    labelExpr="split(datum.label, '|')", labelLineHeight=7.5, grid=False,
                    labelOffset={"condition": {"test": "indexof(datum.label, '|') >= 0",
                                               "value": -6}, "value": 0})
row_axis = alt.Axis(orient="right", offset=HM_X[1] - W, labelFontSize=6.3, labelColor="#222",
                    ticks=False, domain=True, domainColor="#999", domainWidth=0.6,
                    labelPadding=3, title=None, labelLimit=300, grid=False)
hm_bg = alt.Chart(grid_df).mark_rect(color="#dae7f4", stroke="#eaf1f9", strokeWidth=0.5).encode(
    x=alt.X("col:N", scale=alt.Scale(**hx), axis=col_axis, sort=d_cols),
    y=alt.Y("row:N", scale=alt.Scale(**hy), axis=row_axis, sort=d_rows))
cells_df = pd.DataFrame(d_cells, columns=["row", "col", "p"])
hm_cells = alt.Chart(cells_df).mark_rect(stroke="#e4eef8", strokeWidth=0.9).encode(
    x=alt.X("col:N", scale=alt.Scale(**hx), axis=None, sort=d_cols),
    y=alt.Y("row:N", scale=alt.Scale(**hy), axis=None, sort=d_rows),
    color=alt.Color("p:Q", scale=alt.Scale(domain=heat_dom, range=PARULA), legend=None))

# colorbar of panel d
cb_lo = [i / 10 for i in range(int(d_pmax * 10))]
cb_df = pd.DataFrame({"lo": cb_lo, "hi": [v + 0.15 for v in cb_lo], "mid": [v + 0.05 for v in cb_lo]})
cb_df["hi"] = cb_df["hi"].clip(upper=d_pmax)
cb_axis = alt.Axis(orient="left", offset=-22, values=d_ticks, ticks=False, domain=False,
                   labelFontSize=7, labelColor="#222", labelPadding=2, title="p-value",
                   titleFontSize=7, titleFontStyle="italic", titleFontWeight="normal",
                   titleColor="#222", titlePadding=5, grid=False)
pd_cbar = alt.Chart(cb_df).mark_rect().encode(
    x=alt.value(22), x2=alt.value(26),
    y=alt.Y("lo:Q", scale=alt.Scale(domain=[0, d_pmax], range=[HM_Y[1], HM_Y[0]], nice=False,
                                    zero=False), axis=cb_axis), y2="hi:Q",
    color=alt.Color("mid:Q", scale=alt.Scale(domain=heat_dom, range=PARULA), legend=None))

sens_legend = alt.Legend(type="gradient", orient="none", legendX=440, legendY=378,
                         direction="horizontal", gradientLength=137, gradientThickness=4,
                         gradientStrokeWidth=0, title="Relative sensitivity of kidney tissue",
                         titleFontSize=6.5, titleFontWeight="normal", titleAnchor="middle",
                         titleColor="#222", titlePadding=3, labelFontSize=6, labelColor="#222",
                         values=[2, 1, 0, -1, -2], labelOffset=2)
pe = volcano(e_open, e_fill, e_text, [], [356, 487], [0, 5], [0, 1, 2, 3, 4, 5],
             "Slope of HIF1A-drug relationship (\u03bb)", None, 5.5)
pf = volcano(f_open, f_fill, f_text, f_lines, [531, 657], [0, 10], [0, 2, 4, 6, 8, 10],
             "Slope of VHL-drug relationship (\u03bb)", sens_legend, 6)

# letters, legend glyphs and small texts
extras = [
    pix_text("a", 4, 6, fontSize=13, fontWeight="bold"),
    pix_text("b", 210, 6, fontSize=13, fontWeight="bold"),
    pix_text("c", 428, 8, fontSize=13, fontWeight="bold"),
    pix_text("d", 5, 207, fontSize=13, fontWeight="bold"),
    pix_text("e", 329, 205, fontSize=13, fontWeight="bold"),
    pix_text("f", 505, 207, fontSize=13, fontWeight="bold"),
    pix_text("\u00d710\u207b\u2075", 19, 210.5, fontSize=5.5, color="#333"),
    pix_text("\u00b7\u00b7\u00b7", 643.5, 72, fontSize=7, color="#333"),
    pix_text("Mutation frequency", 651, 80.5, fontSize=5.6, color="#222"),
    alt.Chart(pd.DataFrame({"k": [0]})).mark_point(shape="circle", filled=False, color="#333",
                                                   strokeWidth=0.6, size=6).encode(
        x=alt.value(635.5), y=alt.value(72.5)),
    alt.Chart(pd.DataFrame({"k": [0]})).mark_point(shape="circle", filled=False, color="#333",
                                                   strokeWidth=0.6, size=48).encode(
        x=alt.value(653), y=alt.value(72)),
]

chart = alt.layer(*pa, *pb, *pc, hm_bg, hm_cells, pd_cbar, *pe, *pf, *extras).resolve_scale(
    x="independent", y="independent", color="independent", size="independent"
).properties(width=W, height=H, padding=0).configure(font=FONT).configure_view(stroke=None)

chart.save("out.html", embed_options={"renderer": "svg", "actions": False})
